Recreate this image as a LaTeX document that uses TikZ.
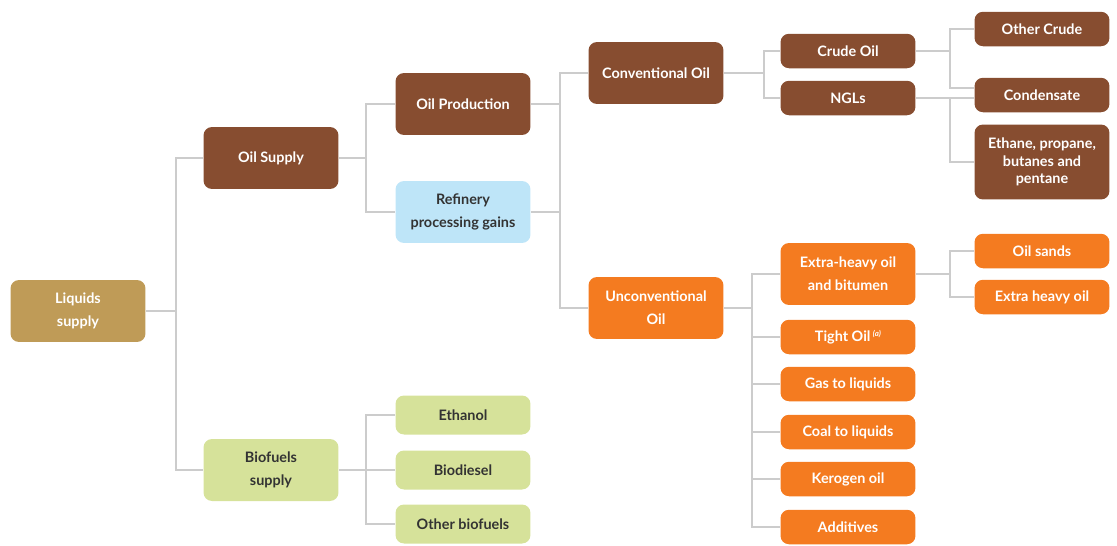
\documentclass[tikz,border=0pt]{standalone}
\usepackage{fontspec}
\setmainfont{Lato}
\definecolor{crudebrown}{HTML}{874D30}
\definecolor{unconvorange}{HTML}{F47B20}
\definecolor{liquidsgold}{HTML}{BF9B57}
\definecolor{biogreen}{HTML}{D6E29A}
\definecolor{refblue}{HTML}{BEE5F8}
\definecolor{linegray}{HTML}{CCCCCC}
\definecolor{darktext}{HTML}{333333}
\tikzset{
  box/.style={rounded corners=0.17cm, minimum width=2.7cm, align=center,
    font=\fontsize{8.2}{13}\selectfont\bfseries, inner sep=1pt},
  tallbox/.style={box, minimum height=1.24cm},
  lowbox/.style={box, minimum height=0.69cm},
  brownbox/.style={fill=crudebrown, text=white},
  orangebox/.style={fill=unconvorange, text=white},
  goldbox/.style={fill=liquidsgold, text=white},
  greenbox/.style={fill=biogreen, text=darktext},
  bluebox/.style={fill=refblue, text=darktext},
  conn/.style={draw=linegray, line width=0.045cm}
}
\begin{document}
\begin{tikzpicture}[x=0.02cm, y=-0.02cm]
            \useasboundingbox (0,0) rectangle (1117,545);
            
            % Root
            \node [tallbox, goldbox] (liquids) at (78,311) {Liquids\\supply};
            
            % Oil and biofuels
            \node [tallbox, brownbox] (oilsupply) at (271,158) {Oil Supply};
            \node [tallbox, greenbox] (biofuels) at (271,470) {Biofuels\\supply};
            
            % Oil supply branches
            \node [tallbox, brownbox] (oilprod) at (463,104) {Oil Production};
            \node [tallbox, bluebox] (refinery) at (463,212) {Refinery\\processing gains};
            
            % Biofuels branches
            \node [lowbox, greenbox, minimum height=0.78cm] (ethanol) at (463,415) {Ethanol};
            \node [lowbox, greenbox, minimum height=0.78cm] (biodiesel) at (463,470) {Biodiesel};
            \node [lowbox, greenbox, minimum height=0.78cm] (otherbio) at (463,524) {Other biofuels};
            
            % Conventional and unconventional
            \node [tallbox, brownbox] (conv) at (656,73) {Conventional Oil};
            \node [tallbox, orangebox] (unconv) at (656,308) {Unconventional\\Oil};
            
            % Conventional branches
            \node [lowbox, brownbox] (crude) at (848,51) {Crude Oil};
            \node [lowbox, brownbox] (ngls) at (848,98) {NGLs};
            \node [lowbox, brownbox] (othercrude) at (1042,29) {Other Crude};
            \node [lowbox, brownbox] (condensate) at (1042,95) {Condensate};
            \node [box, brownbox, minimum height=1.5cm, font=\fontsize{8.2}{10}\selectfont\bfseries] (ethane) at (1042,162) {Ethane, propane,\\butanes and\\pentane};
            
            % Unconventional branches
            \node [tallbox, orangebox] (xheavy) at (848,274) {Extra-heavy oil\\and bitumen};
            \node [lowbox, orangebox] (tight) at (848,337) {Tight Oil\,\raisebox{0.6ex}{\fontsize{4.5}{5}\selectfont\itshape(a)}};
            \node [lowbox, orangebox] (gtl) at (848,384) {Gas to liquids};
            \node [lowbox, orangebox] (ctl) at (848,432) {Coal to liquids};
            \node [lowbox, orangebox] (kerogen) at (848,479) {Kerogen oil};
            \node [lowbox, orangebox] (additives) at (848,527) {Additives};
            \node [lowbox, orangebox] (oilsands) at (1042,251) {Oil sands};
            \node [lowbox, orangebox] (xheavyoil) at (1042,297) {Extra heavy oil};
            
            % Junctions
            \coordinate (jliq) at (176,311);
            \coordinate (joil) at (366,158);
            \coordinate (jbio) at (366,470);
            \coordinate (jprod) at (560,158);
            \coordinate (jconv) at (764,73);
            \coordinate (jcrude) at (950,51);
            \coordinate (jngl) at (950,98);
            \coordinate (junc) at (752,308);
            \coordinate (jxh) at (950,274);
            
            % Drawing connectors
            \draw [conn] (liquids.east) -- (jliq) |- (oilsupply.west);
            \draw [conn] (jliq) |- (biofuels.west);
            \draw [conn] (oilsupply.east) -- (joil) |- (oilprod.west);
            \draw [conn] (joil) |- (refinery.west);
            \draw [conn] (biofuels.east) -- (jbio) |- (ethanol.west);
            \draw [conn] (jbio) |- (otherbio.west);
            \draw [conn] (jbio) -- (biodiesel.west);
            \draw [conn] (oilprod.east) -| (jprod) |- (conv.west);
            \draw [conn] (refinery.east) -| (jprod) |- (unconv.west);
            \draw [conn] (conv.east) -- (jconv) |- (crude.west);
            \draw [conn] (jconv) |- (ngls.west);
            \draw [conn] (crude.east) -- (jcrude) |- ([yshift=0.14cm]condensate.west);
            \draw [conn] (jcrude) |- (othercrude.west);
            \draw [conn] (ngls.east) -- (jngl) -- (condensate.west |- jngl);
            \draw [conn] (jngl) |- (ethane.west);
            \draw [conn] (unconv.east) -- (junc) |- (xheavy.west);
            \foreach \n in {tight, gtl, ctl, kerogen, additives}
              \draw [conn] (junc) |- (\n.west);
            \draw [conn] (xheavy.east) -- (jxh) |- (oilsands.west);
            \draw [conn] (jxh) |- (xheavyoil.west);
        \end{tikzpicture}
\end{document}
